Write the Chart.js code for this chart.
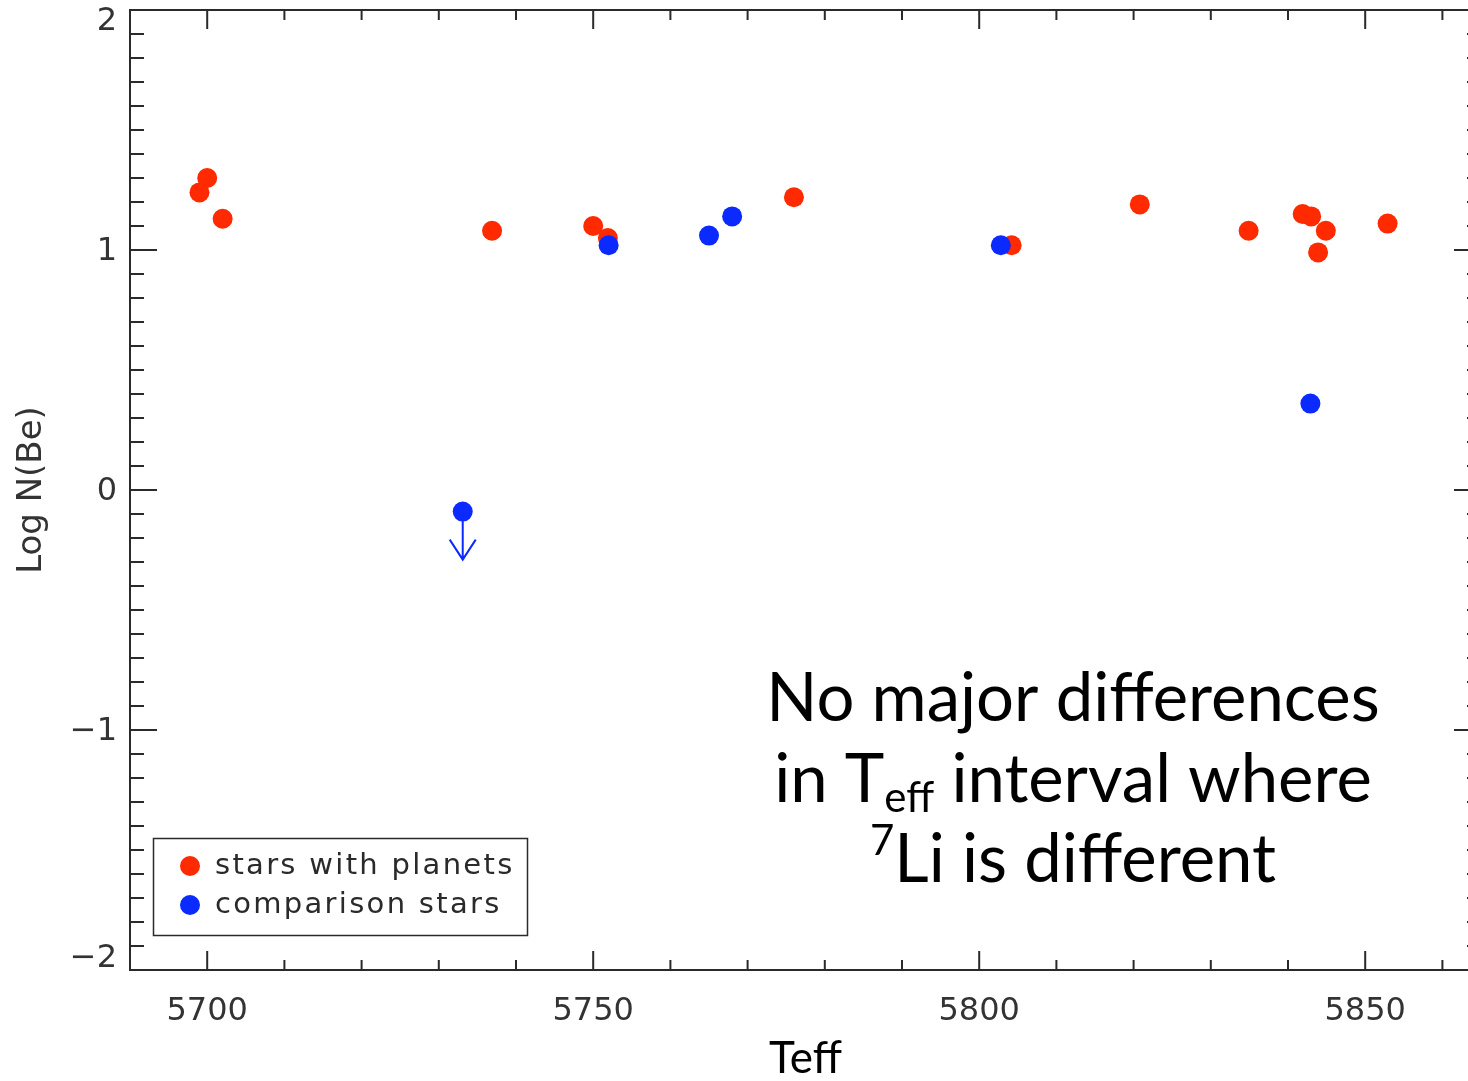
<!DOCTYPE html>
<html>
<head>
<meta charset="utf-8">
<script src="https://cdn.jsdelivr.net/npm/chart.js@4/dist/chart.umd.min.js"></script>
<style>
  html, body { margin: 0; padding: 0; background: #fff; overflow: hidden; }
  #wrap { position: relative; width: 1482px; height: 1081px; }
</style>
</head>
<body>
<div id="wrap"><canvas id="c" width="1482" height="1081"></canvas></div>
<script>
// Beryllium abundance vs effective temperature
const planetTeff = [5699.0, 5700.0, 5702.0, 5736.9, 5750.0, 5751.9, 5776.0, 5804.2, 5820.8, 5834.9, 5841.9, 5843.0, 5844.9, 5843.9, 5852.9];
const planetBe   = [1.24, 1.30, 1.13, 1.08, 1.10, 1.05, 1.22, 1.02, 1.19, 1.08, 1.15, 1.14, 1.08, 0.99, 1.11];

const compTeff = [5733.1, 5752.0, 5765.0, 5768.0, 5802.8, 5842.9];
const compBe   = [-0.09, 1.02, 1.06, 1.14, 1.02, 0.36];
const compUpperLimit = [true, false, false, false, false, false];

const seriesLabels = ['stars with planets', 'comparison stars'];
const seriesColors = ['#ff2a00', '#0a2aff'];

const xTickValues = [5700, 5750, 5800, 5850];
const xTickLabels = ['5700', '5750', '5800', '5850'];
const yTickValues = [-2, -1, 0, 1, 2];
const yTickLabels = ['\u22122', '\u22121', '0', '1', '2'];

const xTitle = 'Teff';
const yTitle = 'Log N(Be)';

// Box frame with inward major/minor ticks on all four sides
const framePlugin = {
  id: 'frame',
  beforeDatasetsDraw(chart) {
    const { ctx, chartArea: a, scales: { x, y } } = chart;
    ctx.save();
    ctx.strokeStyle = '#2a2a2a';
    ctx.lineWidth = 2;
    ctx.strokeRect(a.left, a.top, a.right - a.left, a.bottom - a.top);
    ctx.beginPath();
    for (let k = Math.ceil(x.min / 10); k * 10 <= x.max; k++) {
      const px = x.getPixelForValue(k * 10);
      const len = (k % 5 === 0) ? 19 : 10;
      ctx.moveTo(px, a.bottom); ctx.lineTo(px, a.bottom - len);
      ctx.moveTo(px, a.top);    ctx.lineTo(px, a.top + len);
    }
    for (let k = Math.round(y.min * 10); k <= Math.round(y.max * 10); k++) {
      const py = y.getPixelForValue(k / 10);
      const len = (k % 10 === 0) ? 27 : 14;
      ctx.moveTo(a.left, py);  ctx.lineTo(a.left + len, py);
      ctx.moveTo(a.right, py); ctx.lineTo(a.right - len, py);
    }
    ctx.stroke();

    // y tick labels, kept inside the vertical extent of the frame
    ctx.fillStyle = '#333';
    ctx.font = '32px "DejaVu Sans"';
    ctx.textAlign = 'right';
    ctx.textBaseline = 'middle';
    yTickValues.forEach((v, i) => {
      let py = y.getPixelForValue(v) + 2;
      py = Math.min(Math.max(py, a.top + 12), a.bottom - 11);
      ctx.fillText(yTickLabels[i], a.left - 13, py);
    });
    ctx.restore();
  }
};

// Downward arrows for upper-limit measurements
const limitPlugin = {
  id: 'limits',
  afterDatasetsDraw(chart) {
    const { ctx, scales: { x, y } } = chart;
    ctx.save();
    ctx.strokeStyle = seriesColors[1];
    ctx.lineWidth = 2;
    compTeff.forEach((t, i) => {
      if (!compUpperLimit[i]) return;
      const px = x.getPixelForValue(t);
      const py0 = y.getPixelForValue(compBe[i]);
      const py1 = y.getPixelForValue(compBe[i] - 0.2);
      ctx.beginPath();
      ctx.moveTo(px, py0); ctx.lineTo(px, py1);
      ctx.moveTo(px - 13, py1 - 20); ctx.lineTo(px, py1); ctx.lineTo(px + 13, py1 - 20);
      ctx.stroke();
    });
    ctx.restore();
  }
};

// Boxed legend in the lower-left corner and the slide caption
const overlayPlugin = {
  id: 'overlay',
  afterDraw(chart) {
    const { ctx } = chart;
    ctx.save();
    // legend
    ctx.strokeStyle = '#2a2a2a';
    ctx.lineWidth = 1.5;
    ctx.strokeRect(153.5, 838.5, 374, 97);
    const rows = [866, 905];
    ctx.font = '29px "DejaVu Sans"';
    ctx.textBaseline = 'middle';
    ctx.textAlign = 'left';
    if ('letterSpacing' in ctx) ctx.letterSpacing = '2.3px';
    rows.forEach((ry, i) => {
      ctx.fillStyle = seriesColors[i];
      ctx.beginPath(); ctx.arc(190, ry, 10, 0, Math.PI * 2); ctx.fill();
      ctx.fillStyle = '#2a2a2a';
      ctx.fillText(chart.data.datasets[i].label, 215, ry);
    });
    if ('letterSpacing' in ctx) ctx.letterSpacing = '0px';

    // caption
    ctx.fillStyle = '#000';
    ctx.textBaseline = 'alphabetic';
    const big = 67, small = 42;
    const lines = [
      { base: 721, runs: [{ t: 'No major differences', s: big, dy: 0 }] },
      { base: 802, runs: [{ t: 'in T', s: big, dy: 0 }, { t: 'eff', s: small, dy: 10 }, { t: ' interval where', s: big, dy: 0 }] },
      { base: 882, runs: [{ t: '7', s: small, dy: -27 }, { t: 'Li is different', s: big, dy: 0 }] }
    ];
    const cx = 1073;
    lines.forEach(line => {
      let total = 0;
      line.runs.forEach(r => { ctx.font = r.s + 'px Lato'; r.w = ctx.measureText(r.t).width; total += r.w; });
      let xx = cx - total / 2;
      line.runs.forEach(r => { ctx.font = r.s + 'px Lato'; ctx.fillText(r.t, xx, line.base + r.dy); xx += r.w; });
    });
    ctx.restore();
  }
};

function build() {
  new Chart(document.getElementById('c'), {
    type: 'scatter',
    data: {
      datasets: [
        {
          label: seriesLabels[0],
          data: planetTeff.map((t, i) => ({ x: t, y: planetBe[i] })),
          backgroundColor: seriesColors[0],
          borderWidth: 0,
          pointRadius: 10,
          pointHoverRadius: 10,
          order: 1
        },
        {
          label: seriesLabels[1],
          data: compTeff.map((t, i) => ({ x: t, y: compBe[i] })),
          backgroundColor: seriesColors[1],
          borderWidth: 0,
          pointRadius: 10,
          pointHoverRadius: 10,
          order: 0
        }
      ]
    },
    options: {
      responsive: false,
      animation: false,
      devicePixelRatio: 1,
      events: [],
      layout: { autoPadding: false, padding: { top: 10, right: 1, left: 0, bottom: 0 } },
      plugins: { legend: { display: false }, tooltip: { enabled: false } },
      scales: {
        x: {
          type: 'linear',
          min: 5690,
          max: 5865,
          afterFit(s) { s.height = 111; s.paddingLeft = 0; s.paddingRight = 0; },
          afterBuildTicks(s) { s.ticks = xTickValues.map(v => ({ value: v })); },
          grid: { display: false, drawTicks: false },
          border: { display: false },
          ticks: {
            font: { family: 'DejaVu Sans', size: 32 },
            color: '#333',
            padding: 22,
            maxRotation: 0,
            autoSkip: false,
            callback: (v) => xTickLabels[xTickValues.indexOf(v)]
          },
          title: {
            display: true,
            text: xTitle,
            font: { family: 'Lato', size: 44, lineHeight: 1 },
            color: '#000',
            padding: { top: 0, bottom: 0 }
          }
        },
        y: {
          type: 'linear',
          min: -2,
          max: 2,
          afterFit(s) { s.width = 130; s.paddingTop = 0; s.paddingBottom = 0; },
          afterBuildTicks(s) { s.ticks = yTickValues.map(v => ({ value: v })); },
          grid: { display: false, drawTicks: false },
          border: { display: false },
          ticks: { display: false },
          title: {
            display: true,
            text: yTitle,
            font: { family: 'DejaVu Sans', size: 34, lineHeight: 1.2 },
            color: '#333',
            padding: { top: 12, bottom: 0 }
          }
        }
      }
    },
    plugins: [framePlugin, limitPlugin, overlayPlugin]
  });
}

Promise.all([
  document.fonts.load('44px Lato'),
  document.fonts.load('32px "DejaVu Sans"')
]).then(build, build);
</script>
</body>
</html>
